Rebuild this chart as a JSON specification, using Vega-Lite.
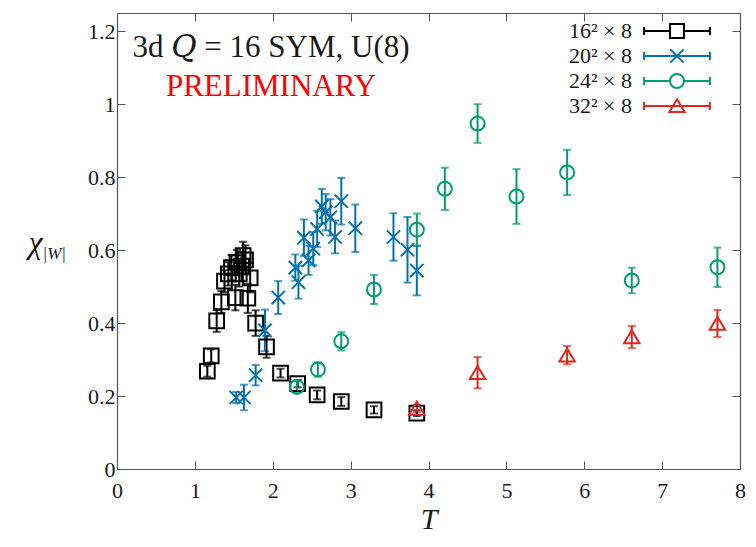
{
  "$schema": "https://vega.github.io/schema/vega-lite/v6.json",
  "width": 623,
  "height": 456,
  "autosize": {"type": "none"},
  "padding": {"left": 117, "top": 13, "right": 16, "bottom": 78},
  "background": "white",
  "config": {"view": {"stroke": null}, "font": "Liberation Serif"},
  "title": {
    "text": "3d 𝑄 = 16 SYM, U(8)",
    "subtitle": "PRELIMINARY",
    "anchor": "start",
    "frame": "group",
    "align": "center",
    "orient": "top",
    "dx": 154,
    "offset": -90,
    "font": "Liberation Serif, DejaVu Serif",
    "fontSize": 31,
    "fontWeight": "normal",
    "color": "#1a1a1a",
    "subtitleFont": "Liberation Serif",
    "subtitleFontSize": 31,
    "subtitleColor": "#ff0000",
    "subtitlePadding": 8
  },
  "data": {
    "values": [
      {"s": "16² × 8", "T": 1.16, "chi": 0.268, "err": 0.015},
      {"s": "16² × 8", "T": 1.21, "chi": 0.310, "err": 0.018},
      {"s": "16² × 8", "T": 1.28, "chi": 0.406, "err": 0.030},
      {"s": "16² × 8", "T": 1.34, "chi": 0.458, "err": 0.030},
      {"s": "16² × 8", "T": 1.38, "chi": 0.515, "err": 0.030},
      {"s": "16² × 8", "T": 1.43, "chi": 0.535, "err": 0.032},
      {"s": "16² × 8", "T": 1.47, "chi": 0.552, "err": 0.035},
      {"s": "16² × 8", "T": 1.52, "chi": 0.470, "err": 0.035},
      {"s": "16² × 8", "T": 1.54, "chi": 0.566, "err": 0.035},
      {"s": "16² × 8", "T": 1.57, "chi": 0.535, "err": 0.035},
      {"s": "16² × 8", "T": 1.60, "chi": 0.556, "err": 0.040},
      {"s": "16² × 8", "T": 1.62, "chi": 0.585, "err": 0.038},
      {"s": "16² × 8", "T": 1.65, "chi": 0.573, "err": 0.040},
      {"s": "16² × 8", "T": 1.68, "chi": 0.468, "err": 0.040},
      {"s": "16² × 8", "T": 1.71, "chi": 0.524, "err": 0.040},
      {"s": "16² × 8", "T": 1.78, "chi": 0.400, "err": 0.035},
      {"s": "16² × 8", "T": 1.92, "chi": 0.335, "err": 0.030},
      {"s": "16² × 8", "T": 2.10, "chi": 0.263, "err": 0.012},
      {"s": "16² × 8", "T": 2.32, "chi": 0.234, "err": 0.010},
      {"s": "16² × 8", "T": 2.57, "chi": 0.203, "err": 0.012},
      {"s": "16² × 8", "T": 2.88, "chi": 0.185, "err": 0.012},
      {"s": "16² × 8", "T": 3.30, "chi": 0.162, "err": 0.010},
      {"s": "16² × 8", "T": 3.85, "chi": 0.153, "err": 0.008},
      {"s": "20² × 8", "T": 1.53, "chi": 0.196, "err": 0.015},
      {"s": "20² × 8", "T": 1.63, "chi": 0.196, "err": 0.035},
      {"s": "20² × 8", "T": 1.78, "chi": 0.257, "err": 0.028},
      {"s": "20² × 8", "T": 1.90, "chi": 0.380, "err": 0.057},
      {"s": "20² × 8", "T": 2.07, "chi": 0.470, "err": 0.045},
      {"s": "20² × 8", "T": 2.29, "chi": 0.552, "err": 0.036},
      {"s": "20² × 8", "T": 2.33, "chi": 0.512, "err": 0.045},
      {"s": "20² × 8", "T": 2.40, "chi": 0.634, "err": 0.050},
      {"s": "20² × 8", "T": 2.46, "chi": 0.572, "err": 0.040},
      {"s": "20² × 8", "T": 2.52, "chi": 0.604, "err": 0.045},
      {"s": "20² × 8", "T": 2.57, "chi": 0.658, "err": 0.050},
      {"s": "20² × 8", "T": 2.63, "chi": 0.720, "err": 0.048},
      {"s": "20² × 8", "T": 2.68, "chi": 0.704, "err": 0.050},
      {"s": "20² × 8", "T": 2.74, "chi": 0.690, "err": 0.050},
      {"s": "20² × 8", "T": 2.80, "chi": 0.636, "err": 0.045},
      {"s": "20² × 8", "T": 2.88, "chi": 0.734, "err": 0.064},
      {"s": "20² × 8", "T": 3.06, "chi": 0.660, "err": 0.065},
      {"s": "20² × 8", "T": 3.55, "chi": 0.636, "err": 0.065},
      {"s": "20² × 8", "T": 3.73, "chi": 0.601, "err": 0.090},
      {"s": "20² × 8", "T": 3.85, "chi": 0.544, "err": 0.068},
      {"s": "24² × 8", "T": 2.31, "chi": 0.225, "err": 0.015},
      {"s": "24² × 8", "T": 2.58, "chi": 0.273, "err": 0.020},
      {"s": "24² × 8", "T": 2.88, "chi": 0.350, "err": 0.025},
      {"s": "24² × 8", "T": 3.30, "chi": 0.492, "err": 0.040},
      {"s": "24² × 8", "T": 3.85, "chi": 0.656, "err": 0.044},
      {"s": "24² × 8", "T": 4.21, "chi": 0.768, "err": 0.058},
      {"s": "24² × 8", "T": 4.63, "chi": 0.947, "err": 0.053},
      {"s": "24² × 8", "T": 5.13, "chi": 0.747, "err": 0.075},
      {"s": "24² × 8", "T": 5.78, "chi": 0.813, "err": 0.062},
      {"s": "24² × 8", "T": 6.61, "chi": 0.517, "err": 0.035},
      {"s": "24² × 8", "T": 7.71, "chi": 0.553, "err": 0.054},
      {"s": "32² × 8", "T": 3.85, "chi": 0.166, "err": 0.010},
      {"s": "32² × 8", "T": 4.63, "chi": 0.264, "err": 0.043},
      {"s": "32² × 8", "T": 5.78, "chi": 0.312, "err": 0.025},
      {"s": "32² × 8", "T": 6.61, "chi": 0.362, "err": 0.030},
      {"s": "32² × 8", "T": 7.71, "chi": 0.399, "err": 0.037}
    ]
  },
  "layer": [
    {
      "mark": {"type": "errorbar", "thickness": 2, "ticks": {"size": 8, "thickness": 2}},
      "encoding": {
        "x": {
          "field": "T", "type": "quantitative",
          "scale": {"domain": [0, 8], "nice": false},
          "axis": {
            "orient": "bottom", "values": [0, 1, 2, 3, 4, 5, 6, 7, 8], "grid": false,
            "labelFont": "Liberation Serif", "labelFontSize": 22, "labelColor": "#1a1a1a",
            "labelFlush": false, "labelPadding": 19,
            "tickSize": -8, "tickColor": "#555", "domainColor": "#555", "domainWidth": 1.2,
            "title": "T", "titleFont": "Liberation Serif", "titleFontSize": 30,
            "titleFontStyle": "italic", "titleFontWeight": "normal", "titleColor": "#1a1a1a",
            "titlePadding": 3
          }
        },
        "y": {
          "field": "chi", "type": "quantitative",
          "scale": {"domain": [0, 1.25], "nice": false},
          "axis": {
            "orient": "left", "values": [0, 0.2, 0.4, 0.6, 0.8, 1, 1.2], "format": "~g", "grid": false,
            "labelFont": "Liberation Serif", "labelFontSize": 22, "labelColor": "#1a1a1a",
            "labelFlush": false, "labelPadding": 10,
            "tickSize": -8, "tickColor": "#555", "domainColor": "#555", "domainWidth": 1.2,
            "title": "χ", "titleFont": "Liberation Serif", "titleFontSize": 32,
            "titleFontStyle": "italic", "titleFontWeight": "normal", "titleColor": "#1a1a1a",
            "titleAngle": 0, "titleAlign": "left", "titleBaseline": "alphabetic",
            "titleX": -89, "titleY": 239
          }
        },
        "yError": {"field": "err"},
        "color": {
          "field": "s", "type": "nominal",
          "scale": {"domain": ["16² × 8", "20² × 8", "24² × 8", "32² × 8"], "range": ["#000000", "#0072B2", "#009E73", "#E3261C"]},
          "legend": null
        }
      }
    },
    {
      "mark": {"type": "point", "filled": false, "strokeWidth": 2, "size": 196, "opacity": 1},
      "encoding": {
        "x": {"field": "T", "type": "quantitative", "axis": null},
        "y": {"field": "chi", "type": "quantitative", "axis": null},
        "color": {"field": "s", "type": "nominal", "legend": null},
        "shape": {
          "field": "s", "type": "nominal",
          "scale": {
            "domain": ["16² × 8", "20² × 8", "24² × 8", "32² × 8"],
            "range": [
              "M-1.05,-1.05H1.05V1.05H-1.05Z",
              "M-0.95,-0.95L0.95,0.95M0.95,-0.95L-0.95,0.95",
              "M1,0A1,1,0,1,1,-1,0A1,1,0,1,1,1,0Z",
              "M0,-0.95L1.1,0.9L-1.1,0.9Z"
            ]
          },
          "legend": null
        }
      }
    },
    {
      "mark": {"type": "point", "filled": false, "strokeWidth": 2, "opacity": 0},
      "encoding": {
        "x": {"field": "T", "type": "quantitative", "axis": null},
        "y": {"field": "chi", "type": "quantitative", "axis": null},
        "color": {
          "field": "s", "type": "nominal",
          "legend": {
            "orient": "none", "legendX": 549, "legendY": 7, "title": null, "padding": 0,
            "symbolSize": 196, "symbolStrokeWidth": 2, "symbolOpacity": 1,
            "labelFont": "Liberation Serif", "labelFontSize": 22, "labelColor": "#1a1a1a",
            "labelAlign": "right", "labelOffset": -56, "rowPadding": 3, "labelLimit": 300
          }
        },
        "shape": {
          "field": "s", "type": "nominal",
          "scale": {
            "domain": ["16² × 8", "20² × 8", "24² × 8", "32² × 8"],
            "range": [
              "M-4.7,-0.57V0.57M-4.7,0H-1M1,0H4.7M4.7,-0.57V0.57M-1,-1H1V1H-1Z",
              "M-4.7,-0.57V0.57M-4.7,0H4.7M4.7,-0.57V0.57M-0.95,-0.95L0.95,0.95M0.95,-0.95L-0.95,0.95",
              "M-4.7,-0.57V0.57M-4.7,0H-1M1,0H4.7M4.7,-0.57V0.57M1,0A1,1,0,1,1,-1,0A1,1,0,1,1,1,0Z",
              "M-4.7,-0.57V0.57M-4.7,0H4.7M4.7,-0.57V0.57M0,-0.95L1.1,0.85L-1.1,0.85Z"
            ]
          },
          "legend": {
            "orient": "none", "legendX": 549, "legendY": 7, "title": null, "padding": 0,
            "symbolSize": 196, "symbolStrokeWidth": 2, "symbolOpacity": 1,
            "labelFont": "Liberation Serif", "labelFontSize": 22, "labelColor": "#1a1a1a",
            "labelAlign": "right", "labelOffset": -56, "rowPadding": 3, "labelLimit": 300
          }
        }
      }
    },
    {
      "mark": {"type": "point", "opacity": 0},
      "encoding": {
        "x": {
          "field": "T", "type": "quantitative",
          "axis": {
            "orient": "top", "values": [0, 1, 2, 3, 4, 5, 6, 7, 8], "grid": false, "labels": false,
            "tickSize": -8, "tickColor": "#555", "domainColor": "#555", "domainWidth": 1.2, "title": null
          }
        },
        "y": {
          "field": "chi", "type": "quantitative",
          "axis": {
            "orient": "right", "values": [0, 0.2, 0.4, 0.6, 0.8, 1, 1.2], "grid": false, "labels": false,
            "tickSize": -8, "tickColor": "#555", "domainColor": "#555", "domainWidth": 1.2,
            "title": "|W|", "titleFont": "Liberation Serif", "titleFontSize": 17,
            "titleFontStyle": "italic", "titleFontWeight": "normal", "titleColor": "#1a1a1a",
            "titleAngle": 0, "titleAlign": "left", "titleBaseline": "alphabetic",
            "titleX": -698, "titleY": 245
          }
        }
      }
    }
  ],
  "resolve": {
    "scale": {"shape": "independent"},
    "axis": {"x": "independent", "y": "independent"},
    "legend": {"color": "independent", "shape": "independent"}
  }
}
